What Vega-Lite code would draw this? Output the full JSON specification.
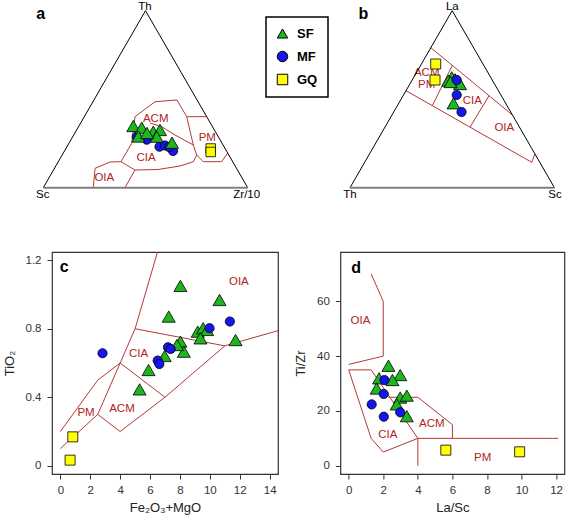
{
"$schema":"https://vega.github.io/schema/vega-lite/v6.json",
"autosize":{"type":"none"},
"padding":{"left":52,"top":10,"right":515,"bottom":509},
"background":"white",
"config":{
 "font":"Liberation Sans",
 "view":{"stroke":"#333","strokeWidth":1.2},
 "axis":{"domain":false,"grid":false,"ticks":true,"tickColor":"#333","tickSize":5,"tickWidth":1,"labelFontSize":11.5,"labelColor":"#333","titleFontSize":13,"titleFontWeight":"normal","titleColor":"#222"},
 "axisX":{"labelPadding":5,"titlePadding":6,"labelAngle":0},
 "axisY":{"labelPadding":6,"titlePadding":9},
 "legend":{"orient":"none","legendX":214,"legendY":7,"padding":10,"strokeColor":"black","strokeWidth":1.5,"fillColor":"white","labelFontSize":13,"labelFontWeight":"bold","labelColor":"black","symbolSize":110,"symbolStrokeColor":"black","symbolStrokeWidth":1,"rowPadding":8,"labelOffset":8}
},
"datasets":{
 "tri":[{"s":"T","i":0,"x":1,"y":0},{"s":"T","i":1,"x":0.5,"y":0.866},{"s":"T","i":2,"x":0,"y":0}],
 "base":[{"x":0,"x2":1,"y":0}],
 "fieldsA":[
  {"s":"A1","i":0,"x":0.4325,"y":0.2172},{"s":"A1","i":1,"x":0.4486,"y":0.3474},{"s":"A1","i":2,"x":0.5465,"y":0.4207},{"s":"A1","i":3,"x":0.6541,"y":0.4291},{"s":"A1","i":4,"x":0.7016,"y":0.3474},{"s":"A1","i":5,"x":0.7994,"y":0.3474},
  {"s":"A2","i":0,"x":0.7016,"y":0.3474},{"s":"A2","i":1,"x":0.7339,"y":0.2089},{"s":"A2","i":2,"x":0.7505,"y":0.16},{"s":"A2","i":3,"x":0.7828,"y":0.1272},{"s":"A2","i":4,"x":0.8728,"y":0.1272},{"s":"A2","i":5,"x":0.9019,"y":0.17},
  {"s":"A3","i":0,"x":0.522,"y":0.3165},{"s":"A3","i":1,"x":0.5793,"y":0.2984},{"s":"A3","i":2,"x":0.6443,"y":0.2578},{"s":"A3","i":3,"x":0.7339,"y":0.2089},
  {"s":"A4","i":0,"x":0.7505,"y":0.16},{"s":"A4","i":1,"x":0.7339,"y":0.1272},{"s":"A4","i":2,"x":0.6688,"y":0.1062},{"s":"A4","i":3,"x":0.5612,"y":0.089},{"s":"A4","i":4,"x":0.4486,"y":0.0866},{"s":"A4","i":5,"x":0.3801,"y":0.1272},{"s":"A4","i":6,"x":0.4325,"y":0.2172},
  {"s":"A5","i":0,"x":0.2446,"y":0},{"s":"A5","i":1,"x":0.2534,"y":0.0949},{"s":"A5","i":2,"x":0.3263,"y":0.1257},{"s":"A5","i":3,"x":0.3801,"y":0.1272},
  {"s":"A6","i":0,"x":0.4486,"y":0.0866},{"s":"A6","i":1,"x":0.3997,"y":0}
 ],
 "fieldsB":[
  {"s":"B1","i":0,"x":0.3954,"y":0.6849},{"s":"B1","i":1,"x":0.7946,"y":0.3557},
  {"s":"B2","i":0,"x":0.274,"y":0.4746},{"s":"B2","i":1,"x":0.889,"y":0.1243},{"s":"B2","i":2,"x":0.9048,"y":0.1649},
  {"s":"B3","i":0,"x":0.5005,"y":0.5982},{"s":"B3","i":1,"x":0.4026,"y":0.4013},
  {"s":"B4","i":0,"x":0.68,"y":0.4502},{"s":"B4","i":1,"x":0.5871,"y":0.2963}
 ],
 "fieldsC":[
  {"s":"C1","i":0,"x":0,"y":0.2},{"s":"C1","i":1,"x":2.5,"y":0.5},{"s":"C1","i":2,"x":4,"y":0.6},{"s":"C1","i":3,"x":7,"y":0.4},
  {"s":"C2","i":0,"x":0,"y":0.1},{"s":"C2","i":1,"x":2.5,"y":0.3},{"s":"C2","i":2,"x":4,"y":0.2},{"s":"C2","i":3,"x":7,"y":0.4},{"s":"C2","i":4,"x":11,"y":0.7},{"s":"C2","i":5,"x":15,"y":0.8},
  {"s":"C3","i":0,"x":2.5,"y":0.3},{"s":"C3","i":1,"x":4,"y":0.6},{"s":"C3","i":2,"x":5,"y":0.8},{"s":"C3","i":3,"x":6.67,"y":1.3},
  {"s":"C4","i":0,"x":5,"y":0.8},{"s":"C4","i":1,"x":11,"y":0.7}
 ],
 "fieldsD":[
  {"s":"D1","i":0,"x":1.3,"y":70},{"s":"D1","i":1,"x":2,"y":60},{"s":"D1","i":2,"x":2,"y":40},{"s":"D1","i":3,"x":0,"y":37},
  {"s":"D2","i":0,"x":0,"y":35},{"s":"D2","i":1,"x":1.3,"y":35},{"s":"D2","i":2,"x":4,"y":10},
  {"s":"D3","i":0,"x":0,"y":35},{"s":"D3","i":1,"x":1.3,"y":10},{"s":"D3","i":2,"x":2,"y":5},{"s":"D3","i":3,"x":4,"y":10},{"s":"D3","i":4,"x":12.12,"y":10},
  {"s":"D4","i":0,"x":4,"y":10},{"s":"D4","i":1,"x":4,"y":0},
  {"s":"D5","i":0,"x":2.3,"y":25},{"s":"D5","i":1,"x":4,"y":25},{"s":"D5","i":2,"x":6,"y":15},{"s":"D5","i":3,"x":6,"y":10}
 ],
 "fieldLabelsA":[{"t":"ACM","x":0.5499,"y":0.3361},{"t":"CIA","x":0.5024,"y":0.1468},{"t":"PM","x":0.8023,"y":0.2446},{"t":"OIA","x":0.2984,"y":0.046}],
 "vertexA":[{"t":"Th","x":0.4975,"y":0.885},{"t":"Sc","x":-0.003,"y":-0.0357},{"t":"Zr/10","x":0.9951,"y":-0.0357}],
 "letterA":[{"t":"a","x":-0.0127,"y":0.8498}],
 "fieldLabelsB":[{"t":"ACM","x":0.3752,"y":0.5626},{"t":"PM","x":0.3752,"y":0.5024},{"t":"CIA","x":0.5984,"y":0.4242},{"t":"OIA","x":0.7549,"y":0.2906}],
 "vertexB":[{"t":"La","x":0.5005,"y":0.885},{"t":"Th","x":0,"y":-0.0357},{"t":"Sc","x":1.003,"y":-0.0357}],
 "letterB":[{"t":"b","x":0.0651,"y":0.8498}],
 "fieldLabelsC":[{"t":"OIA","x":11.94,"y":1.075},{"t":"CIA","x":5.23,"y":0.651},{"t":"PM","x":1.72,"y":0.31},{"t":"ACM","x":4.12,"y":0.331}],
 "letterC":[{"t":"c","x":0.25,"y":1.163}],
 "fieldLabelsD":[{"t":"OIA","x":0.68,"y":52.8},{"t":"CIA","x":2.26,"y":11.2},{"t":"ACM","x":4.81,"y":15.2},{"t":"PM","x":7.75,"y":3.0}],
 "letterD":[{"t":"d","x":0.43,"y":72}],
 "pA":[
  {"g":"MF","x":0.4569,"y":0.2495},{"g":"MF","x":0.5059,"y":0.2348},{"g":"MF","x":0.5685,"y":0.2006},{"g":"MF","x":0.5954,"y":0.2065},{"g":"MF","x":0.6346,"y":0.1796},{"g":"MF","x":0.615,"y":0.1991},
  {"g":"SF","x":0.4403,"y":0.3019},{"g":"SF","x":0.4814,"y":0.2935},{"g":"SF","x":0.4648,"y":0.2505},{"g":"SF","x":0.5382,"y":0.274},{"g":"SF","x":0.5709,"y":0.2823},{"g":"SF","x":0.5548,"y":0.2495},{"g":"SF","x":0.6297,"y":0.2202},{"g":"SF","x":0.5073,"y":0.2676},
  {"g":"GQ","x":0.819,"y":0.1918},{"g":"GQ","x":0.819,"y":0.1747}
 ],
 "pB":[
  {"g":"SF","x":0.4976,"y":0.5401},{"g":"SF","x":0.5137,"y":0.5303},{"g":"SF","x":0.5269,"y":0.522},{"g":"SF","x":0.4809,"y":0.5235},{"g":"SF","x":0.5382,"y":0.5073},{"g":"SF","x":0.5064,"y":0.4129},{"g":"SF","x":0.4917,"y":0.5171},
  {"g":"MF","x":0.522,"y":0.5269},{"g":"MF","x":0.522,"y":0.4535},{"g":"MF","x":0.5455,"y":0.3704},
  {"g":"GQ","x":0.4193,"y":0.6052},{"g":"GQ","x":0.4159,"y":0.5269}
 ],
 "pC":[
  {"g":"SF","x":8.03,"y":1.05},{"g":"SF","x":10.65,"y":0.968},{"g":"SF","x":7.25,"y":0.871},{"g":"SF","x":9.19,"y":0.783},{"g":"SF","x":9.55,"y":0.803},{"g":"SF","x":9.82,"y":0.793},{"g":"SF","x":8.03,"y":0.725},{"g":"SF","x":9.37,"y":0.744},{"g":"SF","x":11.72,"y":0.734},{"g":"SF","x":8.26,"y":0.666},{"g":"SF","x":6.98,"y":0.641},{"g":"SF","x":7.8,"y":0.705},{"g":"SF","x":5.9,"y":0.559},{"g":"SF","x":5.3,"y":0.446},
  {"g":"MF","x":2.82,"y":0.657},{"g":"MF","x":6.51,"y":0.614},{"g":"MF","x":6.62,"y":0.594},{"g":"MF","x":7.2,"y":0.692},{"g":"MF","x":7.38,"y":0.682},{"g":"MF","x":9.98,"y":0.803},{"g":"MF","x":11.34,"y":0.842},
  {"g":"GQ","x":0.83,"y":0.169},{"g":"GQ","x":0.65,"y":0.033}
 ],
 "pD":[
  {"g":"SF","x":2.3,"y":36.5},{"g":"SF","x":2.98,"y":33.1},{"g":"SF","x":1.76,"y":31.9},{"g":"SF","x":2.53,"y":31.3},{"g":"SF","x":1.62,"y":28.2},{"g":"SF","x":2.98,"y":24.9},{"g":"SF","x":3.36,"y":25.6},{"g":"SF","x":2.78,"y":22.4},{"g":"SF","x":3.36,"y":18.1},
  {"g":"MF","x":2.07,"y":31.3},{"g":"MF","x":2.03,"y":26.2},{"g":"MF","x":1.33,"y":22.4},{"g":"MF","x":2.98,"y":19.5},{"g":"MF","x":2.03,"y":17.9},
  {"g":"GQ","x":5.62,"y":5.7},{"g":"GQ","x":9.89,"y":5.1}
 ]
},
"columns":2,
"spacing":{"row":62,"column":62.4},
"bounds":"flush",
"resolve":{"scale":{"color":"shared","shape":"shared"}},
"concat":[
  {"width":200,"height":180,"view":{"stroke":null},
   "encoding":{"x":{"field":"x","type":"quantitative","scale":{"domain":[0.0426,1.021],"nice":false,"zero":false},"axis":null},
               "y":{"field":"y","type":"quantitative","scale":{"domain":[-0.01125,0.8694],"nice":false,"zero":false},"axis":null}},
   "layer":[
    {"data":{"name":"fieldsA"},"mark":{"type":"line","stroke":"#b03a3a","strokeWidth":1},"encoding":{"detail":{"field":"s","type":"nominal"},"order":{"field":"i","type":"quantitative"}}},
    {"data":{"name":"fieldLabelsA"},"mark":{"type":"text","fontSize":11.5,"fill":"#b22222"},"encoding":{"text":{"field":"t"}}},
    {"data":{"name":"tri"},"mark":{"type":"line","stroke":"black","strokeWidth":1},"encoding":{"detail":{"field":"s","type":"nominal"},"order":{"field":"i","type":"quantitative"}}},
    {"data":{"name":"base"},"mark":{"type":"rule","stroke":"#808080","strokeWidth":2},"encoding":{"x2":{"field":"x2"}}},
    {"data":{"name":"vertexA"},"mark":{"type":"text","fontSize":11.5,"fill":"black"},"encoding":{"text":{"field":"t"}}},
    {"data":{"name":"letterA"},"mark":{"type":"text","fontSize":16,"fontWeight":"bold","fill":"black"},"encoding":{"text":{"field":"t"}}},
    {"data":{"name":"pA"},"transform":[{"filter":"datum.g == 'MF'"}],"mark":{"type":"point","filled":true,"opacity":1,"stroke":"black","strokeWidth":0.8,"size":85},
     "encoding":{"color":{"field":"g","type":"nominal","title":null,"scale":{"domain":["SF","MF","GQ"],"range":["#1fb51f","#1515f0","#ffff00"]}},"shape":{"field":"g","type":"nominal","title":null,"scale":{"domain":["SF","MF","GQ"],"range":["triangle-up","circle","square"]}}}},
    {"data":{"name":"pA"},"transform":[{"filter":"datum.g == 'SF'"}],"mark":{"type":"point","filled":true,"opacity":1,"stroke":"black","strokeWidth":0.8,"size":170},
     "encoding":{"color":{"field":"g","type":"nominal","title":null,"scale":{"domain":["SF","MF","GQ"],"range":["#1fb51f","#1515f0","#ffff00"]}},"shape":{"field":"g","type":"nominal","title":null,"scale":{"domain":["SF","MF","GQ"],"range":["triangle-up","circle","square"]}}}},
    {"data":{"name":"pA"},"transform":[{"filter":"datum.g == 'GQ'"}],"mark":{"type":"point","filled":true,"opacity":1,"stroke":"black","strokeWidth":0.8,"size":90},
     "encoding":{"color":{"field":"g","type":"nominal","title":null,"scale":{"domain":["SF","MF","GQ"],"range":["#1fb51f","#1515f0","#ffff00"]}},"shape":{"field":"g","type":"nominal","title":null,"scale":{"domain":["SF","MF","GQ"],"range":["triangle-up","circle","square"]}}}}
   ]},
  {"width":224,"height":180,"view":{"stroke":null},
   "encoding":{"x":{"field":"x","type":"quantitative","scale":{"domain":[-0.04696,1.0488],"nice":false,"zero":false},"axis":null},
               "y":{"field":"y","type":"quantitative","scale":{"domain":[-0.01125,0.8694],"nice":false,"zero":false},"axis":null}},
   "layer":[
    {"data":{"name":"fieldsB"},"mark":{"type":"line","stroke":"#b03a3a","strokeWidth":1},"encoding":{"detail":{"field":"s","type":"nominal"},"order":{"field":"i","type":"quantitative"}}},
    {"data":{"name":"fieldLabelsB"},"mark":{"type":"text","fontSize":11.5,"fill":"#b22222"},"encoding":{"text":{"field":"t"}}},
    {"data":{"name":"tri"},"mark":{"type":"line","stroke":"black","strokeWidth":1},"encoding":{"detail":{"field":"s","type":"nominal"},"order":{"field":"i","type":"quantitative"}}},
    {"data":{"name":"base"},"mark":{"type":"rule","stroke":"#808080","strokeWidth":2},"encoding":{"x2":{"field":"x2"}}},
    {"data":{"name":"vertexB"},"mark":{"type":"text","fontSize":11.5,"fill":"black"},"encoding":{"text":{"field":"t"}}},
    {"data":{"name":"letterB"},"mark":{"type":"text","fontSize":16,"fontWeight":"bold","fill":"black"},"encoding":{"text":{"field":"t"}}},
    {"data":{"name":"pB"},"transform":[{"filter":"datum.g == 'SF'"}],"mark":{"type":"point","filled":true,"opacity":1,"stroke":"black","strokeWidth":0.8,"size":170},
     "encoding":{"color":{"field":"g","type":"nominal","title":null,"scale":{"domain":["SF","MF","GQ"],"range":["#1fb51f","#1515f0","#ffff00"]}},"shape":{"field":"g","type":"nominal","title":null,"scale":{"domain":["SF","MF","GQ"],"range":["triangle-up","circle","square"]}}}},
    {"data":{"name":"pB"},"transform":[{"filter":"datum.g == 'MF'"}],"mark":{"type":"point","filled":true,"opacity":1,"stroke":"black","strokeWidth":0.8,"size":85},
     "encoding":{"color":{"field":"g","type":"nominal","title":null,"scale":{"domain":["SF","MF","GQ"],"range":["#1fb51f","#1515f0","#ffff00"]}},"shape":{"field":"g","type":"nominal","title":null,"scale":{"domain":["SF","MF","GQ"],"range":["triangle-up","circle","square"]}}}},
    {"data":{"name":"pB"},"transform":[{"filter":"datum.g == 'GQ'"}],"mark":{"type":"point","filled":true,"opacity":1,"stroke":"black","strokeWidth":0.8,"size":100},
     "encoding":{"color":{"field":"g","type":"nominal","title":null,"scale":{"domain":["SF","MF","GQ"],"range":["#1fb51f","#1515f0","#ffff00"]}},"shape":{"field":"g","type":"nominal","title":null,"scale":{"domain":["SF","MF","GQ"],"range":["triangle-up","circle","square"]}}}}
   ]},
  {"width":226,"height":222,
   "encoding":{"x":{"field":"x","type":"quantitative","scale":{"domain":[-0.56,14.56],"nice":false,"zero":false},"axis":{"values":[0,2,4,6,8,10,12,14],"title":"Fe₂O₃+MgO"}},
               "y":{"field":"y","type":"quantitative","scale":{"domain":[-0.048,1.248],"nice":false,"zero":false},"axis":{"values":[0,0.4,0.8,1.2],"labelExpr":"datum.value == 0 ? '0' : format(datum.value, '.1f')","title":"TiO₂"}}},
   "layer":[
    {"data":{"name":"fieldsC"},"mark":{"type":"line","stroke":"#b03a3a","strokeWidth":1,"clip":true},"encoding":{"detail":{"field":"s","type":"nominal"},"order":{"field":"i","type":"quantitative"}}},
    {"data":{"name":"fieldLabelsC"},"mark":{"type":"text","fontSize":11.5,"fill":"#b22222"},"encoding":{"text":{"field":"t"}}},
    {"data":{"name":"letterC"},"mark":{"type":"text","fontSize":16,"fontWeight":"bold","fill":"black"},"encoding":{"text":{"field":"t"}}},
    {"data":{"name":"pC"},"transform":[{"filter":"datum.g == 'GQ'"}],"mark":{"type":"point","filled":true,"opacity":1,"stroke":"black","strokeWidth":0.8,"size":100},
     "encoding":{"color":{"field":"g","type":"nominal","title":null,"scale":{"domain":["SF","MF","GQ"],"range":["#1fb51f","#1515f0","#ffff00"]}},"shape":{"field":"g","type":"nominal","title":null,"scale":{"domain":["SF","MF","GQ"],"range":["triangle-up","circle","square"]}}}},
    {"data":{"name":"pC"},"transform":[{"filter":"datum.g == 'SF'"}],"mark":{"type":"point","filled":true,"opacity":1,"stroke":"black","strokeWidth":0.8,"size":170},
     "encoding":{"color":{"field":"g","type":"nominal","title":null,"scale":{"domain":["SF","MF","GQ"],"range":["#1fb51f","#1515f0","#ffff00"]}},"shape":{"field":"g","type":"nominal","title":null,"scale":{"domain":["SF","MF","GQ"],"range":["triangle-up","circle","square"]}}}},
    {"data":{"name":"pC"},"transform":[{"filter":"datum.g == 'MF'"}],"mark":{"type":"point","filled":true,"opacity":1,"stroke":"black","strokeWidth":0.8,"size":85},
     "encoding":{"color":{"field":"g","type":"nominal","title":null,"scale":{"domain":["SF","MF","GQ"],"range":["#1fb51f","#1515f0","#ffff00"]}},"shape":{"field":"g","type":"nominal","title":null,"scale":{"domain":["SF","MF","GQ"],"range":["triangle-up","circle","square"]}}}}
   ]},
  {"width":224,"height":222,
   "encoding":{"x":{"field":"x","type":"quantitative","scale":{"domain":[-0.48,12.48],"nice":false,"zero":false},"axis":{"values":[0,2,4,6,8,10,12],"title":"La/Sc"}},
               "y":{"field":"y","type":"quantitative","scale":{"domain":[-3,78],"nice":false,"zero":false},"axis":{"values":[0,20,40,60],"title":"Ti/Zr"}}},
   "layer":[
    {"data":{"name":"fieldsD"},"mark":{"type":"line","stroke":"#b03a3a","strokeWidth":1,"clip":true},"encoding":{"detail":{"field":"s","type":"nominal"},"order":{"field":"i","type":"quantitative"}}},
    {"data":{"name":"fieldLabelsD"},"mark":{"type":"text","fontSize":11.5,"fill":"#b22222"},"encoding":{"text":{"field":"t"}}},
    {"data":{"name":"letterD"},"mark":{"type":"text","fontSize":16,"fontWeight":"bold","fill":"black"},"encoding":{"text":{"field":"t"}}},
    {"data":{"name":"pD"},"transform":[{"filter":"datum.g == 'GQ'"}],"mark":{"type":"point","filled":true,"opacity":1,"stroke":"black","strokeWidth":0.8,"size":100},
     "encoding":{"color":{"field":"g","type":"nominal","title":null,"scale":{"domain":["SF","MF","GQ"],"range":["#1fb51f","#1515f0","#ffff00"]}},"shape":{"field":"g","type":"nominal","title":null,"scale":{"domain":["SF","MF","GQ"],"range":["triangle-up","circle","square"]}}}},
    {"data":{"name":"pD"},"transform":[{"filter":"datum.g == 'SF'"}],"mark":{"type":"point","filled":true,"opacity":1,"stroke":"black","strokeWidth":0.8,"size":170},
     "encoding":{"color":{"field":"g","type":"nominal","title":null,"scale":{"domain":["SF","MF","GQ"],"range":["#1fb51f","#1515f0","#ffff00"]}},"shape":{"field":"g","type":"nominal","title":null,"scale":{"domain":["SF","MF","GQ"],"range":["triangle-up","circle","square"]}}}},
    {"data":{"name":"pD"},"transform":[{"filter":"datum.g == 'MF'"}],"mark":{"type":"point","filled":true,"opacity":1,"stroke":"black","strokeWidth":0.8,"size":85},
     "encoding":{"color":{"field":"g","type":"nominal","title":null,"scale":{"domain":["SF","MF","GQ"],"range":["#1fb51f","#1515f0","#ffff00"]}},"shape":{"field":"g","type":"nominal","title":null,"scale":{"domain":["SF","MF","GQ"],"range":["triangle-up","circle","square"]}}}}
   ]}
]
}
